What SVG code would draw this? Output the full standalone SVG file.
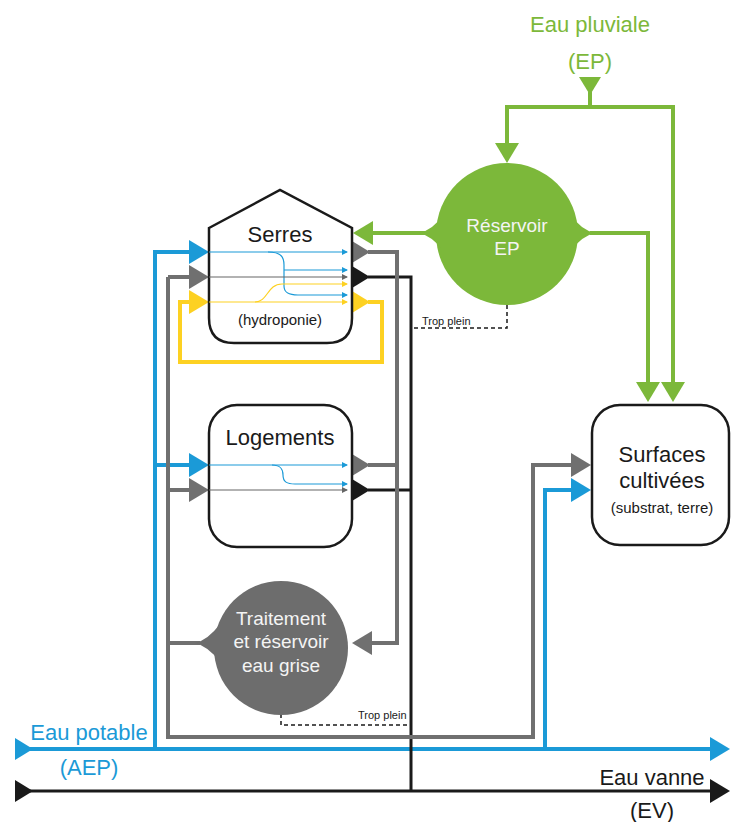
<svg xmlns="http://www.w3.org/2000/svg" width="731" height="822" viewBox="0 0 731 822">
<style>
text{font-family:"Liberation Sans",Arial,sans-serif}
.t22{font-size:22px;fill:#1a1a1a;text-anchor:middle}
.t15{font-size:15px;fill:#1a1a1a;text-anchor:middle}
.tw{font-size:19px;fill:#f4f4f4;text-anchor:middle}
.tp{font-size:11px;fill:#1a1a1a}
.box{fill:#fff;stroke:#1a1a1a;stroke-width:2.5}
.bl{fill:none;stroke:#1b9ad7;stroke-width:4}
.gr{fill:none;stroke:#707070;stroke-width:4}
.bk{fill:none;stroke:#1a1a1a;stroke-width:3}
.ye{fill:none;stroke:#fdd122;stroke-width:4}
.gn{fill:none;stroke:#7cb83a;stroke-width:4}
.dash{fill:none;stroke:#1a1a1a;stroke-width:1.5;stroke-dasharray:4 3}
.tbl{fill:none;stroke:#1b9ad7;stroke-width:1.2}
.tgr{fill:none;stroke:#666;stroke-width:1.2}
.tye{fill:none;stroke:#fdd122;stroke-width:1.2}
</style>
<defs>
<marker id="aBl" markerUnits="userSpaceOnUse" markerWidth="20" markerHeight="24" viewBox="0 0 20 24" refX="1" refY="12" orient="auto"><path d="M0 0L20 12L0 24Z" fill="#1b9ad7"/></marker>
<marker id="aGr" markerUnits="userSpaceOnUse" markerWidth="20" markerHeight="24" viewBox="0 0 20 24" refX="1" refY="12" orient="auto"><path d="M0 0L20 12L0 24Z" fill="#707070"/></marker>
<marker id="aBk" markerUnits="userSpaceOnUse" markerWidth="20" markerHeight="24" viewBox="0 0 20 24" refX="1" refY="12" orient="auto"><path d="M0 0L20 12L0 24Z" fill="#1a1a1a"/></marker>
<marker id="aYe" markerUnits="userSpaceOnUse" markerWidth="20" markerHeight="24" viewBox="0 0 20 24" refX="1" refY="12" orient="auto"><path d="M0 0L20 12L0 24Z" fill="#fdd122"/></marker>
<marker id="aGn" markerUnits="userSpaceOnUse" markerWidth="20" markerHeight="24" viewBox="0 0 20 24" refX="1" refY="12" orient="auto"><path d="M0 0L20 12L0 24Z" fill="#7cb83a"/></marker>
<marker id="sBl" markerUnits="userSpaceOnUse" markerWidth="6" markerHeight="6" viewBox="0 0 6 6" refX="5" refY="3" orient="auto"><path d="M0 0L6 3L0 6Z" fill="#1b9ad7"/></marker>
<marker id="sGr" markerUnits="userSpaceOnUse" markerWidth="6" markerHeight="6" viewBox="0 0 6 6" refX="5" refY="3" orient="auto"><path d="M0 0L6 3L0 6Z" fill="#666"/></marker>
<marker id="sYe" markerUnits="userSpaceOnUse" markerWidth="6" markerHeight="6" viewBox="0 0 6 6" refX="5" refY="3" orient="auto"><path d="M0 0L6 3L0 6Z" fill="#fdd122"/></marker>
<path id="triR" d="M0 -11L18 0L0 11Z"/>
</defs>

<g id="connectors">
  <!-- Eau potable (blue) -->
  <path class="bl" d="M30 749H711" marker-end="url(#aBl)"/>
  <path class="bl" d="M155 749V252H190" marker-end="url(#aBl)"/>
  <path class="bl" d="M155 465H190" marker-end="url(#aBl)"/>
  <path class="bl" d="M545 749V490H572" marker-end="url(#aBl)"/>
  <!-- Eau vanne (black) -->
  <path class="bk" d="M30 791H711" marker-end="url(#aBk)"/>
  <path class="bk" d="M368 277H411V791"/>
  <path class="bk" d="M368 490H411"/>
  <!-- Grey water -->
  <path class="gr" d="M200 643H168"/>
  <path class="gr" d="M168 277H190" marker-end="url(#aGr)"/>
  <path class="gr" d="M168 490H190" marker-end="url(#aGr)"/>
  <path class="gr" d="M168 277V737H533V465H572" marker-end="url(#aGr)"/>
  <path class="gr" d="M368 252H397V643H371" marker-end="url(#aGr)"/>
  <path class="gr" d="M368 465H397"/>
  <!-- Yellow loop -->
  <path class="ye" d="M368 302H382V362H180V302H190" marker-end="url(#aYe)"/>
  <!-- Rain water (green) -->
  <path class="gn" d="M590 92V107"/>
  <path class="gn" d="M505 107H675"/>
  <path class="gn" d="M507 107V144" marker-end="url(#aGn)"/>
  <path class="gn" d="M673 107V383" marker-end="url(#aGn)"/>
  <path class="gn" d="M590 233H648V383" marker-end="url(#aGn)"/>
  <path class="gn" d="M425 233H372" marker-end="url(#aGn)"/>
  <!-- output arrowheads -->
  <use href="#triR" x="352" y="252" fill="#707070"/>
  <use href="#triR" x="352" y="277" fill="#1a1a1a"/>
  <use href="#triR" x="352" y="302" fill="#fdd122"/>
  <use href="#triR" x="352" y="465" fill="#707070"/>
  <use href="#triR" x="352" y="490" fill="#1a1a1a"/>
  <use href="#triR" x="15" y="749" fill="#1b9ad7"/>
  <use href="#triR" x="15" y="791" fill="#1a1a1a"/>
  <path d="M579 77H601L590 95Z" fill="#7cb83a"/>
  <!-- overflow -->
  <path class="dash" d="M507 305V328H411"/>
  <path class="dash" d="M281 714V725H411"/>
  <text class="tp" x="422" y="325">Trop plein</text>
  <text class="tp" x="358" y="719">Trop plein</text>
</g>

<g id="node-serres">
  <path class="box" d="M209 228L280 190L352 228V318Q352 343 327 343H234Q209 343 209 318Z"/>
  <path class="tbl" d="M209 252H347" marker-end="url(#sBl)"/>
  <path class="tbl" d="M268 252C281 252 284 257 284 265V286C284 293 289 295 298 295H347" marker-end="url(#sBl)"/>
  <path class="tbl" d="M284 270H347" marker-end="url(#sBl)"/>
  <path class="tgr" d="M209 277H347" marker-end="url(#sGr)"/>
  <path class="tye" d="M209 302H347" marker-end="url(#sYe)"/>
  <path class="tye" d="M255 302C268 302 267 284 282 284H347" marker-end="url(#sYe)"/>
  <text class="t22" x="280" y="242">Serres</text>
  <text class="t15" x="280" y="325">(hydroponie)</text>
</g>

<g id="node-logements">
  <rect class="box" x="209" y="405" width="143" height="142" rx="28"/>
  <path class="tbl" d="M209 465H347" marker-end="url(#sBl)"/>
  <path class="tbl" d="M272 465C281 465 283 469 283 475C283 482 287 484 295 484H347" marker-end="url(#sBl)"/>
  <path class="tgr" d="M209 490H347" marker-end="url(#sGr)"/>
  <text class="t22" x="280" y="445">Logements</text>
</g>

<g id="node-traitement">
  <circle cx="281" cy="648" r="67" fill="#6d6d6d"/>
  <path d="M195 643Q208 640 220 624V662Q208 646 195 643Z" fill="#6d6d6d"/>
  <text class="tw" x="281" y="625">Traitement</text>
  <text class="tw" x="281" y="648">et réservoir</text>
  <text class="tw" x="281" y="672">eau grise</text>
</g>

<g id="node-reservoir">
  <circle cx="507" cy="234" r="71" fill="#7cb83a"/>
  <path d="M419 233Q433 230 444 214V252Q433 236 419 233Z" fill="#7cb83a"/>
  <path d="M595 233Q581 230 570 214V252Q581 236 595 233Z" fill="#7cb83a"/>
  <text class="tw" x="507" y="232">Réservoir</text>
  <text class="tw" x="507" y="255">EP</text>
</g>

<g id="node-surfaces">
  <rect class="box" x="592" y="405" width="137" height="140" rx="28"/>
  <text class="t22" x="662" y="462">Surfaces</text>
  <text class="t22" x="662" y="488">cultivées</text>
  <text class="t15" x="662" y="513">(substrat, terre)</text>
</g>

<g id="labels">
  <text x="590" y="32" style="font-size:22px;fill:#7cb83a;text-anchor:middle">Eau pluviale</text>
  <text x="590" y="69" style="font-size:22px;fill:#7cb83a;text-anchor:middle">(EP)</text>
  <text x="89" y="740" style="font-size:22px;fill:#1b9ad7;text-anchor:middle">Eau potable</text>
  <text x="89" y="775" style="font-size:22px;fill:#1b9ad7;text-anchor:middle">(AEP)</text>
  <text x="652" y="785" style="font-size:22px;fill:#1a1a1a;text-anchor:middle">Eau vanne</text>
  <text x="652" y="818" style="font-size:22px;fill:#1a1a1a;text-anchor:middle">(EV)</text>
</g>
</svg>
